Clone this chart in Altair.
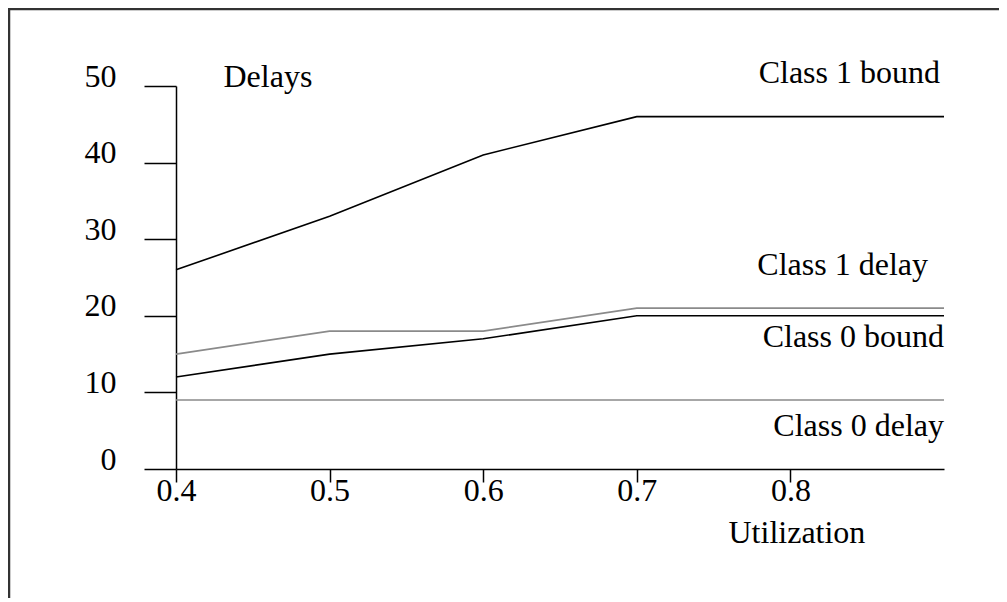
import altair as alt
import pandas as pd

utilization = [0.4, 0.5, 0.6, 0.7, 0.9]
class1_bound = [26, 33, 41, 46, 46]
class1_delay = [15, 18, 18, 21, 21]
class0_bound = [12, 15, 17, 20, 20]
class0_delay = [9, 9, 9, 9, 9]

series_names = ["Class 1 bound", "Class 1 delay", "Class 0 bound", "Class 0 delay"]
series_values = [class1_bound, class1_delay, class0_bound, class0_delay]
series_colors = ["#000000", "#8a8a8a", "#000000", "#8a8a8a"]

x_ticks = [0.4, 0.5, 0.6, 0.7, 0.8]
y_ticks = [0, 10, 20, 30, 40, 50]

rows = []
for name, vals in zip(series_names, series_values):
    for u, v in zip(utilization, vals):
        rows.append({"series": name, "u": u, "d": v})
df = pd.DataFrame(rows)

FONT = "Liberation Serif"
FS = 32

xscale = alt.Scale(domain=[0.4, 0.9], nice=False, zero=False)
yscale = alt.Scale(domain=[0, 50], nice=False)

lines = alt.Chart(df).mark_line(strokeWidth=1.6).encode(
    x=alt.X("u:Q", scale=xscale, axis=alt.Axis(
        values=x_ticks, format=".1f", tickSize=13, labelPadding=18,
        labelBaseline="alphabetic", labelAlign="center", labelFlush=False,
        labelOverlap=False, grid=False,
        title="Utilization", titleX=552, titleY=73, titleAlign="left",
        titleBaseline="alphabetic")),
    y=alt.Y("d:Q", scale=yscale, axis=alt.Axis(
        values=y_ticks, tickSize=32, labelPadding=28,
        labelBaseline="alphabetic", labelAlign="right", labelFlush=False,
        labelOverlap=False, grid=False,
        title="Delays", titleAngle=0, titleX=47, titleY=0, titleAlign="left",
        titleBaseline="alphabetic")),
    color=alt.Color("series:N", scale=alt.Scale(domain=series_names, range=series_colors), legend=None),
    detail="series:N",
)

label_offsets = {"Class 1 bound": (-4, -34), "Class 1 delay": (-16, -33),
                 "Class 0 bound": (0, 31), "Class 0 delay": (0, 36)}
layers = [lines]
end_df = df[df["u"] == utilization[-1]]
for name in series_names:
    dx, dy = label_offsets[name]
    layers.append(
        alt.Chart(end_df[end_df["series"] == name]).mark_text(
            align="right", baseline="alphabetic", font=FONT, fontSize=FS,
            color="black", dx=dx, dy=dy
        ).encode(x=alt.X("u:Q", scale=xscale), y=alt.Y("d:Q", scale=yscale), text="series:N")
    )

frame_data = alt.Data(values=[{}])
left_border = alt.Chart(frame_data).mark_rule(color="#333333", strokeWidth=2.5).encode(
    x=alt.value(-167), y=alt.value(-77), y2=alt.value(600))
top_border = alt.Chart(frame_data).mark_rule(color="#333333", strokeWidth=2.5).encode(
    x=alt.value(-168), x2=alt.value(900), y=alt.value(-77))
layers += [left_border, top_border]

chart = alt.layer(*layers).properties(
    width=768, height=383,
    background="white",
    autosize=alt.AutoSizeParams(type="none"),
    padding={"left": 168, "top": 78, "right": 55, "bottom": 129},
).configure_view(strokeWidth=0).configure_axis(
    labelFont=FONT, labelFontSize=FS, labelColor="black",
    titleFont=FONT, titleFontSize=FS, titleColor="black", titleFontWeight="normal",
    domainColor="black", tickColor="black", domainWidth=1.5, tickWidth=1.5,
)

chart.save("out.html", embed_options={"renderer": "svg", "actions": False})
